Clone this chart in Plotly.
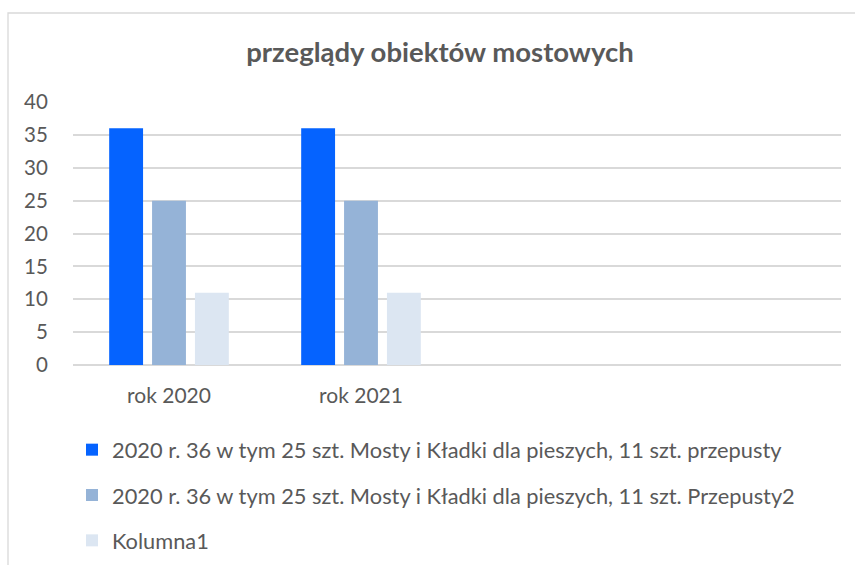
import plotly.graph_objects as go

# Categories on the x axis (the last two rows of the sheet are blank)
categories = ["rok 2020", "rok 2021", "", ""]

# Series values per category
series_names = [
    "2020 r. 36 w tym 25 szt. Mosty i Kładki dla pieszych, 11 szt. przepusty",
    "2020 r. 36 w tym 25 szt. Mosty i Kładki dla pieszych, 11 szt. Przepusty2",
    "Kolumna1",
]
mosty_i_przepusty = [36, 36, None, None]
mosty_i_kladki = [25, 25, None, None]
kolumna1 = [11, 11, None, None]

y_ticks = [0, 5, 10, 15, 20, 25, 30, 35, 40]

title_text = "przeglądy obiektów mostowych"

colors = ["#0563FF", "#95B3D7", "#DCE6F2"]
text_color = "#595959"
grid_color = "#D9D9D9"
font_family = "Lato, 'Open Sans', sans-serif"

W, H = 855, 565
ML, MR, MT, MB = 73, 14, 102, 200
plot_w = W - ML - MR
plot_h = H - MT - MB


def px_to_paper_x(px):
    return (px - ML) / plot_w


def px_to_paper_y(py):
    return (H - MB - py) / plot_h


x_pos = list(range(len(categories)))

fig = go.Figure()
for name, vals, col in zip(series_names, [mosty_i_przepusty, mosty_i_kladki, kolumna1], colors):
    fig.add_trace(
        go.Bar(
            x=x_pos,
            y=vals,
            name=name,
            marker=dict(color=col, line=dict(width=0)),
            legendgroup=name,
        )
    )

# Outer chart frame (left and top edges)
bx0 = px_to_paper_x(8)
by_top = px_to_paper_y(13)
fig.add_shape(
    type="path",
    xref="paper",
    yref="paper",
    path=f"M {bx0},{px_to_paper_y(600)} L {bx0},{by_top} L {px_to_paper_x(900)},{by_top}",
    line=dict(color=grid_color, width=1.3),
)

fig.update_layout(
    width=W,
    height=H,
    margin=dict(l=ML, r=MR, t=MT, b=MB, pad=0, autoexpand=False),
    paper_bgcolor="white",
    plot_bgcolor="white",
    barmode="group",
    bargap=0.33,
    bargroupgap=0.21,
    font=dict(family=font_family, color=text_color),
    title=dict(
        text=f"<b>{title_text}</b>",
        x=440 / W,
        xanchor="center",
        y=1 - 52 / H,
        yanchor="middle",
        font=dict(family=font_family, size=27.5, color=text_color),
    ),
    xaxis=dict(
        range=[-0.5, len(categories) - 0.5],
        tickmode="array",
        tickvals=x_pos,
        ticktext=categories,
        tickangle=0,
        showgrid=False,
        zeroline=False,
        showline=False,
        ticks="outside",
        ticklen=12,
        tickcolor="rgba(0,0,0,0)",
        tickfont=dict(family=font_family, size=21, color=text_color),
    ),
    yaxis=dict(
        range=[0, 40],
        tickmode="array",
        tickvals=y_ticks,
        showgrid=True,
        gridcolor=grid_color,
        gridwidth=1.5,
        zeroline=True,
        zerolinecolor=grid_color,
        zerolinewidth=1.5,
        showline=False,
        ticks="outside",
        ticklen=20,
        tickcolor="rgba(0,0,0,0)",
        tickfont=dict(family=font_family, size=20.5, color=text_color),
    ),
    legend=dict(
        orientation="v",
        xref="paper",
        yref="paper",
        x=px_to_paper_x(72),
        xanchor="left",
        y=px_to_paper_y(429),
        yanchor="top",
        traceorder="grouped",
        tracegroupgap=14,
        font=dict(family=font_family, size=21.8, color=text_color),
        bgcolor="rgba(0,0,0,0)",
        itemwidth=30,
    ),
    showlegend=True,
)

fig.write_html("out.html")
